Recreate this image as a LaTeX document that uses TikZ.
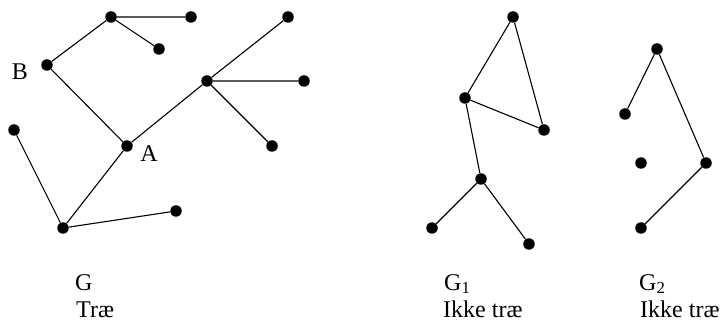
\documentclass[tikz,border=0pt]{standalone}
\usepackage{fontspec}
\setmainfont{Liberation Serif}
\begin{document}
\begin{tikzpicture}[x=1pt,y=-1pt,
  dot/.style={circle,fill=black,inner sep=0pt,minimum size=11.5pt},
  edge/.style={line width=1.1pt},
  lbl/.style={font=\fontsize{24}{29}\selectfont,inner sep=0pt},
  captext/.style={font=\fontsize{24}{29}\selectfont,inner sep=0pt,anchor=base west}]
\useasboundingbox (0,0) rectangle (722,320);
% Graph G
\node[dot] (n1) at (111,17) {};
\node[dot] (n2) at (191,17) {};
\node[dot] (n3) at (159,49) {};
\node[dot] (B) at (47,65) {};
\node[dot] (A) at (127,146) {};
\node[dot] (n5) at (207,81) {};
\node[dot] (n6) at (288,17) {};
\node[dot] (n7) at (304,81) {};
\node[dot] (n8) at (272,146) {};
\node[dot] (n9) at (14,130) {};
\node[dot] (n10) at (63,228) {};
\node[dot] (n11) at (176,211) {};
\draw[edge] (n1)--(n2) (n1)--(n3) (n1)--(B) (B)--(A) (A)--(n5)
  (n5)--(n6) (n5)--(n7) (n5)--(n8) (A)--(n10) (n9)--(n10) (n10)--(n11);
\node[lbl] (lB) at (20,72) {B};
\node[lbl] (lA) at (149,154) {A};
% Graph G1
\node[dot] (a1) at (513,17) {};
\node[dot] (a2) at (465,98) {};
\node[dot] (a3) at (544,130) {};
\node[dot] (a4) at (481,179) {};
\node[dot] (a5) at (432,228) {};
\node[dot] (a6) at (529,244) {};
\draw[edge] (a1)--(a2) (a1)--(a3) (a2)--(a3) (a2)--(a4) (a4)--(a5) (a4)--(a6);
% Graph G2
\node[dot] (b1) at (657,49) {};
\node[dot] (b2) at (625,114) {};
\node[dot] (b3) at (641,163) {};
\node[dot] (b4) at (706,163) {};
\node[dot] (b5) at (641,228) {};
\draw[edge] (b1)--(b2) (b1)--(b4) (b4)--(b5);
% Captions
\node[captext] (t1) at (75,290) {G};
\node[captext] (t2) at (76,317) {Træ};
\node[captext] (t3) at (444,290) {G\textsubscript{1}};
\node[captext] (t4) at (443,317) {Ikke træ};
\node[captext] (t5) at (639,290) {G\textsubscript{2}};
\node[captext] (t6) at (640,317) {Ikke træ};
\end{tikzpicture}
\end{document}
